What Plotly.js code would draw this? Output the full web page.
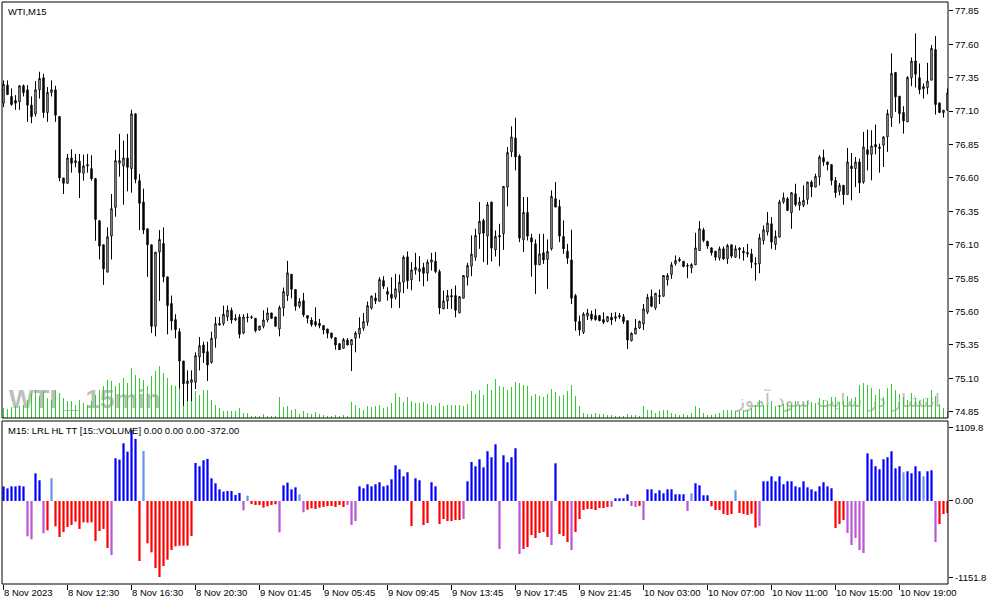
<!DOCTYPE html>
<html><head><meta charset="utf-8">
<script src="https://cdn.plot.ly/plotly-3.0.1.min.js"></script>
<style>html,body{margin:0;padding:0;background:#fff;}#chart{width:991px;height:605px;}</style>
</head><body><div id="chart"></div>
<script>
// ---- DATA ----
const openP = [77.16,77.295,77.21,77.18,77.17,77.29,77.26,77.145,77.08,77.26,
77.35,77.09,77.24,77.26,77.06,76.60,76.56,76.75,76.715,76.725,
76.635,76.69,76.67,76.595,76.28,76.10,75.895,76.165,76.38,76.71,
76.69,76.75,76.67,77.08,76.58,76.42,76.22,76.10,75.49,76.045,
76.11,75.86,75.66,75.54,75.45,75.23,75.06,75.07,75.07,75.26,
75.35,75.30,75.22,75.40,75.50,75.51,75.56,75.61,75.537,75.56,
75.44,75.56,75.555,75.55,75.462,75.49,75.537,75.59,75.56,75.47,
75.627,75.72,75.88,75.765,75.64,75.682,75.57,75.537,75.525,75.512,
75.495,75.47,75.44,75.405,75.36,75.325,75.387,75.35,75.40,75.432,
75.475,75.52,75.627,75.702,75.677,75.832,75.75,75.73,75.707,75.745,
75.82,76.01,75.837,75.91,75.90,75.93,75.887,75.97,75.977,75.90,
75.62,75.68,75.72,75.72,75.59,75.70,75.857,75.94,76.007,76.182,
76.282,76.165,76.42,76.062,76.17,76.182,76.532,76.795,76.90,76.765,
76.137,76.342,76.152,76.107,75.95,76.04,75.99,76.07,76.445,76.387,
76.162,76.052,75.987,75.72,75.527,75.445,75.565,75.582,75.57,75.57,
75.54,75.527,75.557,75.55,75.57,75.562,75.532,75.382,75.432,75.477,
75.507,75.595,75.712,75.627,75.712,75.715,75.837,75.877,75.957,75.992,
75.977,75.945,75.927,75.95,76.057,76.212,76.127,76.077,76.052,76.002,
76.07,75.995,76.10,76.007,76.062,76.052,76.042,76.032,75.96,75.957,
76.132,76.195,76.257,76.102,76.157,76.42,76.445,76.34,76.482,76.395,
76.395,76.44,76.57,76.532,76.607,76.752,76.72,76.70,76.582,76.50,
76.545,76.477,76.69,76.67,76.72,76.57,76.812,76.777,76.85,76.82,
76.845,76.907,77.052,77.39,77.212,77.09,77.02,77.35,77.475,77.35,
77.267,77.277,77.332,77.562,77.162,77.09,77.107];
const highP = [77.33,77.33,77.27,77.22,77.295,77.30,77.295,77.21,77.325,77.395,
77.38,77.28,77.33,77.29,77.06,76.60,76.78,76.815,76.78,76.78,
76.775,76.78,76.77,76.60,76.28,76.10,76.23,76.48,76.81,76.93,
76.88,76.93,77.11,77.08,76.63,76.52,76.22,76.10,76.045,76.21,
76.23,75.86,75.72,75.58,75.475,75.23,75.16,75.16,75.295,75.41,
75.375,75.375,75.45,75.56,75.56,75.645,75.645,75.63,75.58,75.58,
75.58,75.587,75.57,75.55,75.492,75.61,75.63,75.59,75.56,75.645,
75.78,75.98,75.88,75.765,75.70,75.74,75.57,75.557,75.632,75.545,
75.495,75.47,75.44,75.405,75.36,75.402,75.402,75.39,75.452,75.557,
75.59,75.675,75.72,75.74,75.857,75.865,75.782,75.857,75.882,75.877,
76.02,76.05,75.97,76.04,76.015,75.965,75.99,76.04,76.045,75.915,
75.757,75.762,75.77,75.795,75.712,75.87,75.965,76.17,76.22,76.42,
76.295,76.42,76.42,76.207,76.257,76.537,76.832,76.987,77.05,76.777,
76.457,76.457,76.182,76.14,76.182,76.182,76.14,76.507,76.57,76.437,
76.282,76.107,76.212,75.732,75.57,75.595,75.62,75.607,75.62,75.57,
75.595,75.562,75.59,75.595,75.59,75.582,75.532,75.445,75.545,75.532,
75.657,75.732,75.765,75.737,75.765,75.87,75.887,75.97,76.02,76.007,
75.977,75.962,75.962,76.19,76.277,76.227,76.127,76.077,76.052,76.087,
76.087,76.107,76.10,76.095,76.082,76.082,76.107,76.07,76.007,76.182,
76.245,76.345,76.307,76.207,76.437,76.49,76.457,76.49,76.557,76.457,
76.545,76.57,76.582,76.632,76.77,76.812,76.72,76.70,76.607,76.562,
76.545,76.825,76.787,76.757,76.745,76.945,76.962,76.957,77.00,76.857,
76.912,77.112,77.532,77.39,77.212,77.137,77.362,77.502,77.682,77.457,
77.307,77.462,77.595,77.662,77.162,77.107,77.27];
const lowP = [77.13,77.22,77.14,77.11,77.11,77.21,77.02,77.01,77.06,77.195,
77.05,77.02,77.21,77.02,76.575,76.48,76.56,76.64,76.68,76.45,
76.58,76.64,76.58,76.13,75.99,75.80,75.895,75.99,76.31,76.61,
76.40,76.50,76.49,76.56,76.21,76.18,75.86,75.44,75.415,75.68,
75.82,75.43,75.46,75.40,75.025,74.895,74.93,74.93,75.02,75.16,
75.215,75.08,75.21,75.33,75.495,75.495,75.53,75.51,75.53,75.40,
75.43,75.52,75.545,75.445,75.457,75.475,75.52,75.545,75.49,75.415,
75.565,75.68,75.70,75.607,75.625,75.56,75.512,75.487,75.487,75.475,
75.43,75.40,75.395,75.315,75.315,75.325,75.35,75.155,75.295,75.40,
75.457,75.495,75.615,75.657,75.677,75.77,75.682,75.627,75.69,75.627,
75.737,75.77,75.76,75.877,75.825,75.79,75.827,75.907,75.887,75.58,
75.62,75.62,75.62,75.557,75.59,75.70,75.795,75.865,75.98,76.07,
75.97,75.95,75.975,76.012,75.94,76.062,76.387,76.757,76.657,76.12,
76.045,76.132,75.862,75.732,75.95,75.957,75.77,76.057,76.382,76.12,
76.032,75.957,75.657,75.457,75.42,75.432,75.537,75.532,75.532,75.527,
75.507,75.52,75.50,75.525,75.545,75.507,75.32,75.377,75.432,75.47,
75.462,75.582,75.632,75.612,75.657,75.712,75.795,75.845,75.945,75.97,
75.932,75.85,75.887,75.95,76.057,76.12,76.07,76.02,75.982,75.982,
75.987,75.957,76.002,76.002,75.995,75.982,76.007,75.925,75.832,75.887,
76.102,76.17,76.07,76.062,76.157,76.407,76.352,76.22,76.387,76.357,
76.382,76.402,76.457,76.532,76.545,76.69,76.657,76.545,76.452,76.47,
76.40,76.477,76.432,76.532,76.487,76.557,76.657,76.582,76.777,76.64,
76.682,76.795,76.982,77.095,77.007,76.932,77.02,77.287,77.277,77.227,
77.195,77.227,77.332,77.075,77.087,77.052,77.107];
const closeP = [77.30,77.225,77.15,77.16,77.29,77.24,77.145,77.06,77.26,77.345,
77.09,77.24,77.26,77.07,76.60,76.56,76.75,76.71,76.73,76.64,
76.69,76.70,76.595,76.29,76.09,75.92,76.16,76.37,76.73,76.73,
76.75,76.68,77.08,76.59,76.41,76.21,76.10,75.49,76.045,76.14,
75.86,75.645,75.53,75.465,75.23,75.06,75.08,75.09,75.27,75.345,
75.29,75.20,75.40,75.51,75.51,75.58,75.61,75.537,75.55,75.43,
75.56,75.555,75.56,75.457,75.492,75.537,75.59,75.55,75.49,75.63,
75.75,75.89,75.767,75.64,75.675,75.575,75.55,75.502,75.50,75.495,
75.462,75.437,75.407,75.35,75.315,75.39,75.35,75.39,75.44,75.477,
75.525,75.645,75.715,75.68,75.84,75.79,75.73,75.70,75.77,75.82,
76.007,75.83,75.912,75.93,75.92,75.887,75.97,75.987,75.90,75.627,
75.68,75.72,75.71,75.61,75.712,75.87,75.945,76.03,76.17,76.275,
76.187,76.40,76.075,76.162,76.16,76.537,76.79,76.907,76.757,76.15,
76.342,76.165,76.12,75.95,76.032,75.987,76.05,76.462,76.382,76.165,
76.07,76.00,75.70,75.527,75.462,75.582,75.59,75.545,75.54,75.532,
75.52,75.562,75.537,75.562,75.562,75.525,75.387,75.437,75.477,75.527,
75.62,75.707,75.64,75.737,75.72,75.87,75.87,75.95,75.982,75.982,
75.937,75.94,75.952,76.077,76.22,76.132,76.09,76.04,76.007,76.07,
75.995,76.095,76.015,76.07,76.075,76.04,76.032,75.97,75.955,76.152,
76.212,76.262,76.12,76.162,76.42,76.452,76.357,76.49,76.40,76.42,
76.432,76.57,76.532,76.612,76.757,76.72,76.70,76.582,76.49,76.545,
76.475,76.72,76.67,76.72,76.562,76.832,76.777,76.84,76.832,76.832,
76.907,77.082,77.382,77.207,77.082,77.027,77.352,77.475,77.377,77.262,
77.285,77.325,77.57,77.15,77.09,77.107,77.237];
const tickVolume = [1000,900,1100,1200,1200,1300,1800,2500,2800,2200,2700,2000,1800,2800,2500,2000,1700,1700,1300,1800,
1500,1300,1700,2300,2800,3200,3800,3700,3200,3500,4000,3500,5000,4300,4000,3800,3200,4200,4700,5200,
4500,4000,3300,3200,3000,2800,1800,2200,2700,2300,2800,2800,1800,1300,1000,700,700,700,700,1000,
500,500,200,200,200,400,200,200,200,2100,1100,1200,800,900,400,700,500,400,600,400,
300,200,200,300,200,300,200,1600,1300,1000,800,1200,1100,1200,1300,1000,1100,1500,2500,2100,
1600,2100,1700,1500,1500,1600,1400,1300,1200,1500,1200,1300,1300,1300,1300,1200,1400,2700,
2400,2800,2300,3400,2800,3900,3200,3100,2800,3100,3600,3500,3300,3200,2200,2400,2200,2100,2400,2900,
2600,2200,2300,2700,3300,2200,1200,500,400,400,500,400,400,300,300,200,200,200,400,300,
300,200,1200,800,800,500,700,800,800,500,400,300,400,300,500,1200,1000,500,300,
300,400,500,800,800,800,700,700,800,800,1000,1300,1800,1300,1300,1700,1200,1300,1400,1500,
1400,1700,1300,1400,1700,1600,1500,2000,1800,1700,2100,2100,1600,1700,2200,1900,2100,3300,3500,3300,
3000,2300,2900,2100,3000,3400,2800,2400,2100,1800,2500,2000,1700,1900,2000,2800,2200,1400,1000,700];
const oscValues = [220,190,220,220,230,220,-533,-578,417,312,
-488,-443,342,-382,-543,-468,-392,-362,-312,-422,
-322,-327,-322,-604,-453,-422,-709,-815,644,624,
870,744,1071,936,-905,754,-639,-775,-1011,-1147,
-981,-885,-739,-684,-674,-674,-674,-528,573,523,
614,634,342,267,176,141,151,151,91,121,
-141,80,-45,-60,-60,-100,-80,-60,-50,-473,
236,277,176,206,100,-171,-131,-111,-121,-100,
-90,-78,-75,-90,-60,-90,-60,-362,-302,221,
191,252,221,252,282,221,236,327,538,478,
372,433,-377,342,312,-362,-332,282,221,-347,
-272,-302,-302,-287,-287,-272,297,589,523,629,
508,750,659,855,-724,689,583,659,795,-800,
-724,-694,-513,-558,-483,-468,-543,-664,568,-498,
-528,-619,-739,-468,-272,-136,-121,-121,-136,-106,
-106,-90,-90,40,40,40,100,-75,-90,-75,
-287,176,176,116,161,116,176,176,101,101,
101,-151,116,267,236,86,86,-80,-136,-136,
-196,-211,-196,161,-181,-196,-211,-191,-402,-377,
297,297,372,297,372,252,297,297,221,206,
297,206,176,146,221,282,221,191,-407,-347,
-287,-483,-664,-558,-739,-785,719,629,523,478,
629,659,750,493,523,433,448,418,523,448,
372,448,463,-619,-347,-196,-181];
// oscillator state per bar: B = rising up, L = weak up, R = falling down, V = weak down
const oscState = ("BBBBBB"+"VV"+"BB"+"V"+"R"+"L"+"RRRRRRRRRRRRRR"+"V"+"BBBBBB"+"R"+"L"+
  "RRRRRRRRRRRR"+"BBBBBBBBBBBB"+"V"+"L"+"RRRRRRR"+"V"+"BBBB"+"L"+"V"+"RRRRRRRRRR"+"VVV"+
  "BBBBBBBBBBBBB"+"R"+"BB"+"RR"+"BB"+"RRRRRR"+"V"+"BBBBBBBB"+"V"+"BBBB"+"V"+"RRRRRRR"+"V"+
  "B"+"RRR"+"V"+"RRRRRRRRR"+"V"+"BBBB"+"VV"+"R"+"V"+"BBBBBBBBBB"+"V"+"L"+"BBBB"+"RRRRRR"+
  "L"+"RRRRR"+"V"+"BBBBBBBBBBBBBBBBBB"+"RRR"+"VVVVV"+"BBBBBBBBB"+"L"+"BBBB"+"L"+"BB"+"V"+"RRR").split("");
const timeTickLabels = ["8 Nov 2023","8 Nov 12:30","8 Nov 16:30","8 Nov 20:30","9 Nov 01:45",
  "9 Nov 05:45","9 Nov 09:45","9 Nov 13:45","9 Nov 17:45","9 Nov 21:45","10 Nov 03:00",
  "10 Nov 07:00","10 Nov 11:00","10 Nov 15:00","10 Nov 19:00"];
const barsPerTimeTick = 16;
const priceTicks = [74.85,75.10,75.35,75.60,75.85,76.10,76.35,76.60,76.85,77.10,77.35,77.60,77.85];
const oscTicks = [1109.8, 0, -1151.8];
const oscTickText = ["1109.8","0.00","-1151.8"];
const chartTitle = "WTI,M15";
const indicatorTitle = "M15: LRL HL TT [15::VOLUME] 0.00 0.00 0.00 -372.00";
const watermarkLeft = "WTI _ 15min";
const watermarkRight = "انتشار در سایت سود آموز";

// ---- BUILD ----
const W = 991, H = 605;
const M = {l:2, r:43, t:2, b:21};
const plotW = W - M.l - M.r, plotH = H - M.t - M.b;
const px = v => (v - M.l) / plotW;
const py = v => (H - M.b - v) / plotH;

const barIndex = openP.map((_, i) => i);
const tickIdx = timeTickLabels.map((_, i) => i * barsPerTimeTick);

const stateColors = {B:"#0000FF", L:"#6495ED", R:"#FF0000", V:"#BA55D3"};
const oscTraces = Object.keys(stateColors).map(s => ({
  type:"bar", x: barIndex,
  y: oscValues.map((v, i) => oscState[i] === s ? v : null),
  xaxis:"x", yaxis:"y2", width:0.55,
  marker:{color: stateColors[s], line:{width:0}},
  hoverinfo:"skip", showlegend:false
}));

const traces = [
  {type:"bar", x: barIndex, y: tickVolume, xaxis:"x", yaxis:"y", width:0.25,
   marker:{color:"#32CD32", line:{width:0}}, hoverinfo:"skip", showlegend:false},
  {type:"candlestick", x: barIndex, open: openP, high: highP, low: lowP, close: closeP,
   xaxis:"x", yaxis:"y3", whiskerwidth:0,
   increasing:{line:{color:"#000000", width:1}, fillcolor:"#FFFFFF"},
   decreasing:{line:{color:"#000000", width:1}, fillcolor:"#000000"},
   hoverinfo:"skip", showlegend:false},
  ...oscTraces
];

const topBottom = py(418), botTop = py(421);
const axFont = {family:"Liberation Sans, Arial, sans-serif", size:9.5, color:"#000"};

const layout = {
  width:W, height:H, margin:M, paper_bgcolor:"#fff", plot_bgcolor:"#fff",
  showlegend:false, barmode:"overlay", boxgap:0.5,
  font: axFont,
  xaxis:{anchor:"y2", domain:[0,1], range:[-0.375, 236.125],
    tickmode:"array", tickvals: tickIdx, ticktext: timeTickLabels, tickangle:0,
    ticks:"outside", ticklen:5, tickcolor:"#000", tickwidth:1,
    ticklabelposition:"outside right", tickfont:axFont,
    showgrid:false, zeroline:false, showline:false, fixedrange:true,
    rangeslider:{visible:false}},
  yaxis:{domain:[topBottom,1], range:[0,41600], visible:false, fixedrange:true},
  yaxis3:{overlaying:"y", side:"right", anchor:"x", range:[74.8036, 77.917],
    tickmode:"array", tickvals: priceTicks, tickformat:".2f",
    ticks:"outside", ticklen:4, tickcolor:"#000", tickfont:axFont,
    showgrid:false, zeroline:false, showline:false, fixedrange:true},
  yaxis2:{domain:[0,botTop], side:"right", anchor:"x", range:[-1252, 1206],
    tickmode:"array", tickvals: oscTicks, ticktext: oscTickText,
    ticks:"outside", ticklen:4, tickcolor:"#000", tickfont:axFont,
    showgrid:false, zeroline:false, showline:false, fixedrange:true},
  shapes:[
    {type:"rect", xref:"paper", yref:"paper", x0:px(6), x1:px(155), y0:py(412), y1:py(382),
     line:{width:0}, fillcolor:"rgba(0,0,0,0)", layer:"below",
     label:{text: watermarkLeft, textposition:"middle left", padding:0,
       font:{family:"Liberation Sans Narrow, Arial Narrow, Liberation Sans, sans-serif", size:26, color:"#BDBDBD", weight:"bold"}}},
    {type:"rect", xref:"paper", yref:"paper", x0:px(730), x1:px(943), y0:py(413), y1:py(386),
     line:{width:0}, fillcolor:"rgba(0,0,0,0)", layer:"below",
     label:{text: watermarkRight, textposition:"middle right", padding:0,
       font:{family:"DejaVu Sans, sans-serif", size:19, color:"#BDBDBD"}}},
    {type:"rect", xref:"paper", yref:"paper", x0:0, x1:1, y0:topBottom, y1:1,
     line:{color:"#000", width:1}, layer:"above"},
    {type:"rect", xref:"paper", yref:"paper", x0:0, x1:1, y0:0, y1:botTop,
     line:{color:"#000", width:1}, layer:"above"}
  ],
  annotations:[
    {xref:"paper", yref:"paper", x:px(6), y:py(4), xanchor:"left", yanchor:"top",
     text: chartTitle, showarrow:false, font:axFont},
    {xref:"paper", yref:"paper", x:px(6), y:py(423), xanchor:"left", yanchor:"top",
     text: indicatorTitle, showarrow:false, font:axFont}
  ]
};

Plotly.newPlot("chart", traces, layout, {staticPlot:true, displayModeBar:false});
</script>
</body></html>
